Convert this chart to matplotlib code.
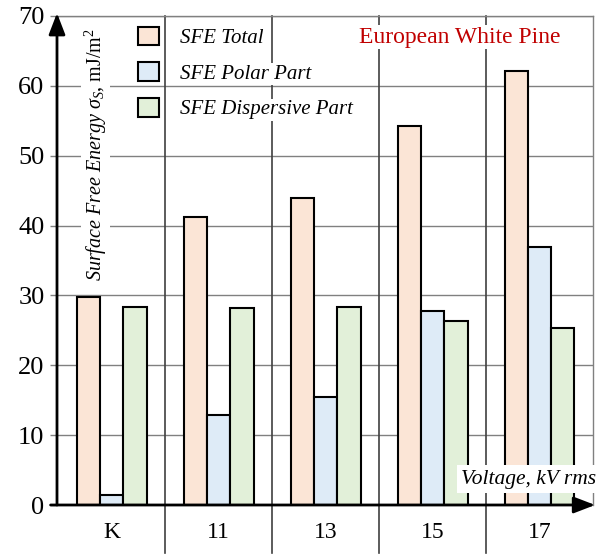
import numpy as np
import matplotlib.pyplot as plt

categories = ['K', '11', '13', '15', '17']
sfe_total = [29.8, 41.2, 43.9, 54.2, 62.1]
sfe_polar = [1.4, 12.9, 15.5, 27.8, 36.9]
sfe_disp = [28.3, 28.2, 28.3, 26.4, 25.4]
yticks = [0, 10, 20, 30, 40, 50, 60, 70]

plt.rcParams['font.family'] = ['Liberation Serif', 'DejaVu Serif']
plt.rcParams['mathtext.fontset'] = 'custom'
plt.rcParams['mathtext.rm'] = 'Liberation Serif'
plt.rcParams['mathtext.it'] = 'Liberation Serif:italic'

fig = plt.figure(figsize=(6.05, 5.55), dpi=100)
ax = fig.add_axes([57 / 605, 50 / 555, 536 / 605, 489 / 555])

x = np.arange(len(categories))
w = 0.218
bar_kw = dict(edgecolor='black', linewidth=1.5, zorder=3)
ax.bar(x - w, sfe_total, w, color='#fbe5d6', label='SFE Total', **bar_kw)
ax.bar(x, sfe_polar, w, color='#deebf7', label='SFE Polar Part', **bar_kw)
ax.bar(x + w, sfe_disp, w, color='#e2f0d9', label='SFE Dispersive Part', **bar_kw)

ax.set_xlim(-0.51, 4.5)
ax.set_ylim(0, 70)
ax.set_yticks(yticks)
ax.set_xticks(x)
ax.set_xticklabels(categories)
ax.tick_params(axis='y', length=5, width=1, color='#808080', labelsize=19, pad=4)
ax.tick_params(axis='x', length=0, labelsize=17, pad=12)
ax.yaxis.grid(True, color='#808080', linewidth=1, zorder=0)
ax.set_axisbelow(True)

for side in ['left', 'bottom']:
    ax.spines[side].set_visible(False)
for side in ['top', 'right']:
    ax.spines[side].set_color('#808080')
    ax.spines[side].set_linewidth(1)

# separators between the groups, running down past the axis
for b in x[:-1] + 0.5:
    ax.plot([b, b], [1, -0.098], transform=ax.get_xaxis_transform(),
            color='#404040', linewidth=1.2, clip_on=False, zorder=2)

# axes drawn as arrows
arrow = dict(arrowstyle='-|>,head_length=13,head_width=5', mutation_scale=1,
             color='black', linewidth=2, shrinkA=0, shrinkB=0)
ax.annotate('', xy=(0, 1.006), xytext=(0, 0), xycoords='axes fraction',
            arrowprops=arrow, annotation_clip=False, zorder=6)
ax.annotate('', xy=(1.004, 0), xytext=(-0.012, 0), xycoords='axes fraction',
            arrowprops=arrow, annotation_clip=False, zorder=6)

ax.text(0.072, 0.975, r'$\mathit{Surface\ Free\ Energy}\ \sigma_S$, mJ/m$^2$',
        transform=ax.transAxes, rotation=90, ha='center', va='top', fontsize=14.5,
        bbox=dict(facecolor='white', edgecolor='none', pad=1), zorder=5)
ax.text(1.006, 0.053, 'Voltage, kV rms', transform=ax.transAxes, ha='right',
        va='center', fontsize=15.5, style='italic',
        bbox=dict(facecolor='white', edgecolor='none', pad=3), zorder=5)
ax.text(0.751, 0.957, 'European White Pine', transform=ax.transAxes,
        ha='center', va='center', fontsize=17, color='#c00000',
        bbox=dict(facecolor='white', edgecolor='none', pad=1), zorder=5)

leg = ax.legend(loc='upper left', bbox_to_anchor=(0.151, 0.978), frameon=False,
                fontsize=15, handlelength=1.0, handleheight=1.0,
                handletextpad=1.0, labelspacing=0.68, borderaxespad=0, borderpad=0)
for t in leg.get_texts():
    t.set_style('italic')
    t.set_bbox(dict(facecolor='white', edgecolor='none', pad=1))
leg.set_zorder(5)

fig.savefig('out.png', dpi=100)
